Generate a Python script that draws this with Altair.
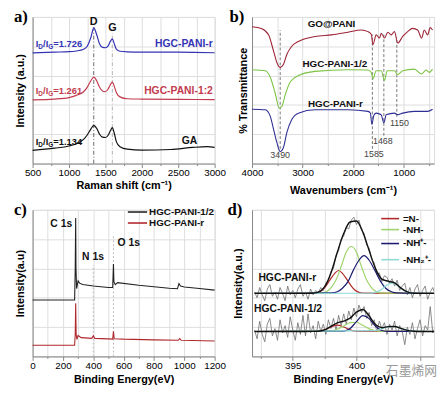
import altair as alt
import pandas as pd

FONT = "Liberation Sans"

# ---------------- panel a (Raman) ----------------
a_x = [500, 800, 1000, 1100, 1200, 1250, 1300, 1340, 1380, 1420, 1460, 1500, 1540, 1570, 1595, 1620, 1650, 1700, 1800, 2000, 2500, 3000]
a_r = [75.5, 76, 76.3, 76.8, 78, 80, 86, 92.5, 88, 81.5, 79.2, 79, 80.5, 83.5, 85, 82, 78, 76.6, 76.2, 76, 76, 75.6]
a_12 = [43.5, 44, 45, 46.5, 49, 52, 56.5, 59, 56.5, 52, 49.5, 49, 51, 54, 55.5, 53, 48.5, 45.5, 44.2, 44, 43.8, 43.6]
a_ga_x = [500, 800, 1000, 1100, 1200, 1250, 1300, 1340, 1380, 1420, 1460, 1500, 1540, 1570, 1595, 1620, 1650, 1700, 1800, 2000, 2400, 2700, 2900, 3000]
a_ga = [9, 10.5, 12, 13.5, 16.5, 19.5, 23.5, 26, 24, 20, 18, 17.8, 19.5, 22.5, 24.5, 21, 15, 11.5, 9.8, 9.2, 9.6, 11, 11.5, 11]
a_series = ["HGC-PANI-r", "HGC-PANI-1:2", "GA"]
a_colors = ["#3434b4", "#c23c4e", "#111111"]
a_ratio = ["=1.726", "=1.261", "=1.134"]
a_ratio_x = [544, 544, 544]
a_ratio_y = [81.5, 49.7, 14.7]
a_name_x = [2975, 2975, 2760]
a_name_y = [81.5, 49.7, 15.5]
a_peak_x = [1340, 1595]
a_peak_lbl = ["D", "G"]
a_peak_lbl_y = [96.5, 92.5]
a_peak_top = [93, 89]
a_peak_color = ["#555555", "#aaaaaa"]

# ---------------- panel b (FTIR) ----------------
b_go_x = [4000, 3804, 3673, 3574, 3509, 3443, 3377, 3312, 3214, 3083, 2755, 2428, 2100, 1839, 1707, 1640, 1609, 1544, 1478, 1446, 1380, 1314, 1249, 1183, 1118, 1020, 921, 823, 725, 646, 593, 528, 476, 430]
b_go_y = [93.3, 92, 87.8, 76.7, 68.9, 65.6, 67.8, 74.4, 80, 83.3, 86.7, 87.8, 89.6, 91.1, 90, 88, 81.1, 87.8, 85.6, 88.9, 85.6, 89.6, 87.8, 90, 82.2, 86.7, 90, 92.2, 91.1, 85.6, 91.1, 87.8, 92.7, 91.1]
b_12_x = [4000, 3738, 3639, 3541, 3462, 3411, 3345, 3246, 3083, 2755, 2100, 1707, 1640, 1609, 1544, 1446, 1380, 1328, 1183, 1118, 1020, 790, 646, 560, 495, 430]
b_12_y = [64, 63.3, 58.9, 47.8, 37.8, 38.9, 46.7, 55.6, 60, 62.9, 64, 63.8, 62, 57.8, 63.3, 63.3, 56.7, 63.3, 63.3, 60.7, 63.3, 64.4, 61.1, 63.8, 62.2, 64.4]
b_r_x = [4000, 3738, 3639, 3574, 3509, 3443, 3377, 3312, 3214, 3083, 2755, 2100, 1707, 1660, 1629, 1590, 1544, 1446, 1393, 1347, 1183, 1118, 1020, 790, 528, 430]
b_r_y = [37.1, 36.7, 32.2, 23.3, 14.4, 8.2, 11.1, 21.1, 30, 34.4, 36.7, 36.7, 35.6, 34.5, 26.7, 33, 34.4, 33.3, 27.8, 33.3, 34.4, 33.3, 34.4, 35.6, 35.6, 37.1]
b_series = ["GO@PANI", "HGC-PANI-1/2", "HGC-PANI-r"]
b_colors = ["#9e2436", "#7cc443", "#2e2f94"]
b_name_x = [2428, 2362, 2350]
b_name_y = [95, 68.2, 40.7]
b_line_x = [3443, 1620, 1393, 1137]
b_line_top = [91, 88, 88, 86]
b_line_bot = [10, 10, 19, 32]
b_peak_lbl = ["3490", "1585", "1468", "1150"]
b_peak_lbl_x = [3443, 1589, 1413, 1085]
b_peak_lbl_y = [6, 6.4, 15.6, 27.8]

# ---------------- panel c (XPS survey) ----------------
c_blk_x = [0, 277, 281, 284, 286, 290, 300, 310, 330, 400, 500, 528, 533, 536, 545, 560, 700, 900, 955, 965, 975, 1000, 1100, 1200]
c_blk_y = [38.5, 38.5, 60, 94.4, 60, 46.3, 51.5, 50, 49, 48, 47, 47, 63, 50.8, 49, 50.3, 48.5, 46.5, 46.2, 49.7, 48, 47.3, 46.3, 45.2]
c_red_x = [0, 277, 281, 284, 287, 292, 300, 320, 390, 400, 410, 500, 528, 533, 538, 600, 800, 960, 970, 980, 1200]
c_red_y = [7.6, 7.6, 15, 36.2, 15, 11.6, 14.3, 12.8, 12.3, 14, 12.3, 12, 11.8, 17.2, 12.1, 11.8, 11.3, 11, 12.2, 11, 10.5]
c_series = ["HGC-PANI-1/2", "HGC-PANI-r"]
c_colors = ["#222222", "#b0282e"]
c_leg_y = [98.5, 91]
c_peak_lbl = ["C 1s", "N 1s", "O 1s"]
c_peak_lbl_x = [189, 398, 634]
c_peak_lbl_y = [90.4, 67.6, 77]
c_line_x = [400, 533]
c_line_top = [62, 82]

# ---------------- panel d (N 1s) ----------------
d_raw_x = [round(392 + 0.2 * i, 1) for i in range(72)]
d_raw_up = [44, 40, 47, 42, 38, 46, 49, 41, 44, 39, 47, 43, 38, 48, 42, 45, 40, 46, 49, 41,
            44, 39, 46, 42, 45, 43, 47, 45, 50, 52, 58, 60, 69, 72, 80, 82, 88, 87, 93, 95,
            90, 93, 86, 84, 76, 74, 66, 64, 56, 57, 51, 55, 54, 50, 53, 48, 52, 45, 48, 50,
            42, 47, 40, 46, 49, 41, 45, 48, 39, 44, 47, 42]
d_raw_lo = [18, 12, 24, 15, 10, 22, 26, 14, 19, 11, 25, 16, 21, 13, 27, 18, 11, 23, 15, 28,
            14, 29, 16, 21, 12, 24, 17, 22, 15, 25, 19, 26, 18, 28, 21, 29, 22, 31, 25, 33,
            27, 35, 30, 34, 26, 30, 21, 25, 17, 24, 19, 23, 15, 22, 18, 24, 14, 21, 17, 8,
            20, 15, 23, 12, 19, 25, 14, 21, 18, 34, 16, 20]
d_env_x = [392, 396, 396.5, 397, 397.5, 398, 398.5, 399, 399.5, 400, 400.5, 401, 401.5, 402, 402.5, 403, 403.5, 404, 404.5, 405, 406.1]
d_env_up = [43, 43, 43.1, 43.8, 47.4, 56.9, 71.1, 83.8, 91.7, 92.4, 84.9, 72.2, 59.9, 52.7, 51.3, 50.1, 46.6, 44, 43.1, 43, 43]
d_env_lo = [17, 17, 17.05, 17.2, 18.1, 20.5, 22.9, 24.1, 26.1, 30.2, 32.0, 27.6, 21.7, 19.6, 20.3, 20.4, 19.1, 17.8, 17.2, 17, 17]
d_n_up_x = [392, 396.7, 397.0, 397.3, 397.6, 397.95, 398.3, 398.6, 398.9, 399.25, 399.6, 399.9, 400.2, 400.5, 406.1]
d_n_up_y = [43, 43.2, 43.7, 45.1, 48.0, 52.5, 56.7, 58.6, 56.7, 52.5, 48.0, 45.1, 43.7, 43.2, 43]
d_nh_up_x = [392, 397.3, 397.7, 398.05, 398.45, 398.85, 399.2, 399.6, 400.0, 400.35, 400.75, 401.15, 401.5, 401.9, 406.1]
d_nh_up_y = [43, 43.35, 44.4, 47.3, 53.2, 62.5, 71.2, 75, 71.2, 62.5, 53.2, 47.3, 44.4, 43.35, 43]
d_nhp_up_x = [392, 398.05, 398.5, 398.9, 399.35, 399.75, 400.2, 400.6, 401.0, 401.45, 401.9, 402.3, 402.75, 403.15, 406.1]
d_nhp_up_y = [43, 43.3, 44.1, 46.5, 51.2, 58.7, 65.6, 68.7, 65.6, 58.7, 51.2, 46.5, 44.1, 43.3, 43]
d_nh2_up_x = [392, 401.0, 401.3, 401.6, 401.9, 402.2, 402.5, 402.8, 403.1, 403.4, 403.7, 404.0, 404.3, 404.6, 406.1]
d_nh2_up_y = [43, 43.1, 43.3, 44.0, 45.2, 47.3, 49.2, 50, 49.2, 47.3, 45.2, 44.0, 43.3, 43.1, 43]
d_n_lo_x = [392, 397.0, 397.5, 398.0, 398.5, 399.0, 399.5, 400.0, 406.1]
d_n_lo_y = [17, 17.2, 18.1, 20.1, 21.4, 20.1, 18.1, 17.2, 17]
d_nh_lo_x = [392, 398.0, 398.5, 399.0, 399.5, 400.0, 400.5, 401.0, 401.5, 402.0, 406.1]
d_nh_lo_y = [17, 17.4, 18.5, 20.7, 23.0, 23.3, 21.2, 18.8, 17.5, 17.1, 17]
d_nhp_lo_x = [392, 399.0, 399.5, 400.0, 400.5, 401.0, 401.5, 402.0, 402.5, 406.1]
d_nhp_lo_y = [17, 17.3, 19.0, 23.7, 27.8, 25.8, 20.6, 17.7, 17.1, 17]
d_nh2_lo_x = [392, 401.5, 402.0, 402.5, 403.0, 403.5, 404.0, 404.5, 406.1]
d_nh2_lo_y = [17, 17.6, 18.8, 20.2, 20.4, 19.1, 17.8, 17.2, 17]
d_comp = ["=N-", "-NH-", "-NH\u207a-", "-NH\u2082\u207a-"]
d_comp_colors = ["#b02a2a", "#9fd36a", "#1c1c70", "#8fd9d6"]
d_leg_y = [94, 86.5, 77, 66]
d_leg_x1 = [401.95] * 4
d_leg_x2 = [403.35] * 4
d_leg_tx = [403.65] * 4
d_names = ["HGC-PANI-r", "HGC-PANI-1/2"]
d_name_x = [392.3, 391.95]
d_name_y = [53.2, 32]


def long(pairs):
    rows = []
    for grp, c, xs, ys in pairs:
        for i, (x, y) in enumerate(zip(xs, ys)):
            rows.append({"g": grp, "c": c, "x": x, "y": y, "o": i})
    return pd.DataFrame(rows)


def x_axis(title, values, major, fmt="d", show=None, tpad=1):
    show = show or major
    return alt.Axis(title=title, values=values, format=fmt,
                    labelExpr=f"({show}) ? datum.label : ''",
                    tickSize={"condition": {"test": major, "value": 4}, "value": 2},
                    labelOverlap=False, labelFlush=False, titlePadding=tpad, labelPadding=0)


def y_axis(title, pad):
    return alt.Axis(title=title, labels=False, ticks=False, titlePadding=pad)


def panel_label(t, dx):
    return alt.Chart(pd.DataFrame({"t": [t]})).mark_text(
        font="Liberation Serif", fontWeight="bold", fontSize=17, align="left",
        baseline="top").encode(x=alt.value(dx), y=alt.value(-8), text="t:N")


COL = lambda: alt.Color("c:N", scale=None)
W, H = 185, 149

# ---------- panel a ----------
ax = alt.X("x:Q", scale=alt.Scale(domain=[500, 3000], nice=False, zero=False),
           axis=x_axis("Raman shift (cm\u207b\u00b9)", list(range(500, 3001, 250)), "datum.value % 500 === 0", tpad=2))
ay = alt.Y("y:Q", scale=alt.Scale(domain=[0, 100], nice=False), axis=y_axis("Intensity (a.u.)", 7))
a_df = long([("a1", a_colors[0], a_x, a_r), ("a2", a_colors[1], a_x, a_12), ("a3", a_colors[2], a_ga_x, a_ga)])
a_lines = alt.Chart(a_df).mark_line(strokeWidth=1.2, interpolate="monotone").encode(
    x=ax, y=ay, order="o:Q", detail="g:N", color=COL())
a_rule_df = pd.DataFrame({"x": a_peak_x, "y": [0, 0], "y2": a_peak_top, "c": a_peak_color})
a_rules = alt.Chart(a_rule_df).mark_rule(strokeDash=[4, 2, 1, 2], strokeWidth=0.9).encode(
    x=ax, y=ay, y2="y2:Q", color=COL())
a_pk = alt.Chart(pd.DataFrame({"x": a_peak_x, "y": a_peak_lbl_y, "t": a_peak_lbl})).mark_text(
    fontWeight="bold", fontSize=11, baseline="middle", color="#111111").encode(x=ax, y=ay, text="t:N")
a_lab_df = pd.DataFrame({"x": a_ratio_x, "y": a_ratio_y, "v": a_ratio, "c": a_colors})
common = dict(fontWeight="bold", align="left", baseline="middle")
a_I = alt.Chart(a_lab_df).mark_text(text="I", fontSize=9.5, **common).encode(x=ax, y=ay, color=COL())
a_D = alt.Chart(a_lab_df).mark_text(text="D", fontSize=6.5, dx=2.6, dy=3, **common).encode(x=ax, y=ay, color=COL())
a_S = alt.Chart(a_lab_df).mark_text(text="/I", fontSize=9.5, dx=7.4, **common).encode(x=ax, y=ay, color=COL())
a_G = alt.Chart(a_lab_df).mark_text(text="G", fontSize=6.5, dx=12.7, dy=3, **common).encode(x=ax, y=ay, color=COL())
a_V = alt.Chart(a_lab_df).mark_text(fontSize=9.5, dx=17.8, **common).encode(x=ax, y=ay, text="v:N", color=COL())
a_names = alt.Chart(pd.DataFrame({"x": a_name_x, "y": a_name_y, "t": a_series, "c": a_colors})).mark_text(
    fontWeight="bold", fontSize=10.5, align="right", baseline="middle").encode(
    x=ax, y=ay, text="t:N", color=COL())
pa = alt.layer(a_rules, a_lines, a_pk, a_I, a_D, a_S, a_G, a_V, a_names, panel_label("a)", -19)).properties(width=W, height=H)

# ---------- panel b ----------
bx = alt.X("x:Q", scale=alt.Scale(domain=[400, 4000], reverse=True, nice=False, zero=False),
           axis=x_axis("Wavenumbers (cm\u207b\u00b9)", list(range(4000, 400, -500)), "datum.value % 1000 === 0", tpad=7))
by = alt.Y("y:Q", scale=alt.Scale(domain=[0, 100], nice=False), axis=y_axis("% Transmittance", 4))
b_df = long([("b1", b_colors[0], b_go_x, b_go_y), ("b2", b_colors[1], b_12_x, b_12_y), ("b3", b_colors[2], b_r_x, b_r_y)])
b_lines = alt.Chart(b_df).mark_line(strokeWidth=1.1, interpolate="monotone").encode(
    x=bx, y=by, order="o:Q", detail="g:N", color=COL())
b_rules = alt.Chart(pd.DataFrame({"x": b_line_x, "y": b_line_bot, "y2": b_line_top})).mark_rule(
    strokeDash=[3, 2], strokeWidth=0.8, color="#555555").encode(x=bx, y=by, y2="y2:Q")
b_names = alt.Chart(pd.DataFrame({"x": b_name_x, "y": b_name_y, "t": b_series})).mark_text(
    fontWeight="bold", fontSize=10, baseline="middle", color="#111111").encode(x=bx, y=by, text="t:N")
b_pk = alt.Chart(pd.DataFrame({"x": b_peak_lbl_x, "y": b_peak_lbl_y, "t": b_peak_lbl})).mark_text(
    fontSize=9, baseline="middle", color="#444444").encode(x=bx, y=by, text="t:N")
pb = alt.layer(b_rules, b_lines, b_names, b_pk, panel_label("b)", -23)).properties(width=W, height=H)

# ---------- panel c ----------
c_scale_x = alt.Scale(domain=[0, 1200], nice=False, zero=False)
c_axis_x = x_axis("Binding Energy(eV)", list(range(0, 1201, 100)), "datum.value % 200 === 0", tpad=4)
cx = alt.X("x:Q", scale=c_scale_x, axis=c_axis_x)
cy = alt.Y("y:Q", scale=alt.Scale(domain=[0, 100], nice=False), axis=y_axis("Intensity(a.u)", 7))
c_df = long([("c1", c_colors[0], c_blk_x, c_blk_y), ("c2", c_colors[1], c_red_x, c_red_y)])
c_lines = alt.Chart(c_df).mark_line(strokeWidth=1.1).encode(x=cx, y=cy, order="o:Q", detail="g:N", color=COL())
c_rules = alt.Chart(pd.DataFrame({"x": c_line_x, "y": [0, 0], "y2": c_line_top})).mark_rule(
    strokeDash=[2, 2], strokeWidth=0.8, color="#aaaaaa").encode(x=cx, y=cy, y2="y2:Q")
c_pk = alt.Chart(pd.DataFrame({"x": c_peak_lbl_x, "y": c_peak_lbl_y, "t": c_peak_lbl})).mark_text(
    fontWeight="bold", fontSize=10.5, baseline="middle", color="#111111").encode(x=cx, y=cy, text="t:N")
c_leg_df = pd.DataFrame({"x": [628, 628], "x2": [755, 755], "tx": [768, 768], "y": c_leg_y, "t": c_series, "c": c_colors})
c_leg_l = alt.Chart(c_leg_df).mark_rule(strokeWidth=1.6).encode(x=cx, x2="x2:Q", y=cy, color=COL())
c_leg_t = alt.Chart(c_leg_df).mark_text(fontWeight="bold", fontSize=10, align="left", baseline="middle", color="#111111").encode(
    x=alt.X("tx:Q", scale=c_scale_x, axis=c_axis_x), y=cy, text="t:N")
pc = alt.layer(c_rules, c_lines, c_pk, c_leg_l, c_leg_t, panel_label("c)", -19)).properties(width=W, height=H)

# ---------- panel d ----------
d_scale_x = alt.Scale(domain=[391.8, 406.1], nice=False, zero=False)
d_axis_x = x_axis("Binding Energy(eV)", [392.5, 395, 397.5, 400, 402.5, 405], "datum.value % 5 === 0",
                  show="datum.value === 395 || datum.value === 400", tpad=4)
dx_ = alt.X("x:Q", scale=d_scale_x, axis=d_axis_x)
dy_ = alt.Y("y:Q", scale=alt.Scale(domain=[0, 100], nice=False), axis=y_axis("Intensity(a.u.)", 9))
d_raw_df = long([("up", "#6e6e6e", d_raw_x, d_raw_up), ("lo", "#6e6e6e", d_raw_x, d_raw_lo)])
d_raw = alt.Chart(d_raw_df).mark_line(strokeWidth=0.8, clip=True).encode(x=dx_, y=dy_, detail="g:N", order="o:Q", color=COL())
d_comp_df = long([
    ("u1", d_comp_colors[0], d_n_up_x, d_n_up_y), ("u2", d_comp_colors[1], d_nh_up_x, d_nh_up_y),
    ("u3", d_comp_colors[2], d_nhp_up_x, d_nhp_up_y), ("u4", d_comp_colors[3], d_nh2_up_x, d_nh2_up_y),
    ("l1", d_comp_colors[0], d_n_lo_x, d_n_lo_y), ("l2", d_comp_colors[1], d_nh_lo_x, d_nh_lo_y),
    ("l3", d_comp_colors[2], d_nhp_lo_x, d_nhp_lo_y), ("l4", d_comp_colors[3], d_nh2_lo_x, d_nh2_lo_y)])
d_comps = alt.Chart(d_comp_df).mark_line(strokeWidth=1.2, interpolate="monotone").encode(
    x=dx_, y=dy_, detail="g:N", order="o:Q", color=COL())
d_env_df = long([("eu", "#111111", d_env_x, d_env_up), ("el", "#111111", d_env_x, d_env_lo)])
d_env = alt.Chart(d_env_df).mark_line(strokeWidth=1.4, interpolate="monotone").encode(
    x=dx_, y=dy_, detail="g:N", order="o:Q", color=COL())
d_leg_df = pd.DataFrame({"x": d_leg_x1, "x2": d_leg_x2, "tx": d_leg_tx, "y": d_leg_y, "t": d_comp, "c": d_comp_colors})
d_leg_l = alt.Chart(d_leg_df).mark_rule(strokeWidth=1.6).encode(x=dx_, x2="x2:Q", y=dy_, color=COL())
d_leg_t = alt.Chart(d_leg_df).mark_text(fontWeight="bold", fontSize=10, align="left", baseline="middle", color="#111111").encode(
    x=alt.X("tx:Q", scale=d_scale_x, axis=d_axis_x), y=dy_, text="t:N")
d_nm = alt.Chart(pd.DataFrame({"x": d_name_x, "y": d_name_y, "t": d_names})).mark_text(
    fontWeight="bold", fontSize=10.5, align="left", baseline="middle", color="#111111").encode(x=dx_, y=dy_, text="t:N")
d_wm = alt.Chart(pd.DataFrame({"t": ["石墨烯网"]})).mark_text(
    font="Noto Sans CJK SC", fontSize=13, color="#9a9a9a", align="left", baseline="middle").encode(
    x=alt.value(136), y=alt.value(164), text="t:N")
pd_ = alt.layer(d_raw, d_comps, d_env, d_leg_l, d_leg_t, d_nm, d_wm, panel_label("d)", -25)).properties(width=W, height=H)

chart = alt.concat(pa, pb, pc, pd_, columns=2, spacing={"row": 47, "column": 38}, bounds="flush", align="all").properties(
    padding={"left": 5, "top": -4, "right": 0, "bottom": 0}
).configure_axis(
    labelFont=FONT, titleFont=FONT, labelFontWeight="bold", titleFontWeight="bold",
    labelFontSize=10, titleFontSize=11, labelColor="#111111", titleColor="#111111",
    domainColor="#222222", tickColor="#222222", grid=False
).configure_view(stroke="#222222", strokeWidth=1).configure_text(font=FONT).configure(background="white")

chart.save("out.html", embed_options={"renderer": "svg", "actions": False})
